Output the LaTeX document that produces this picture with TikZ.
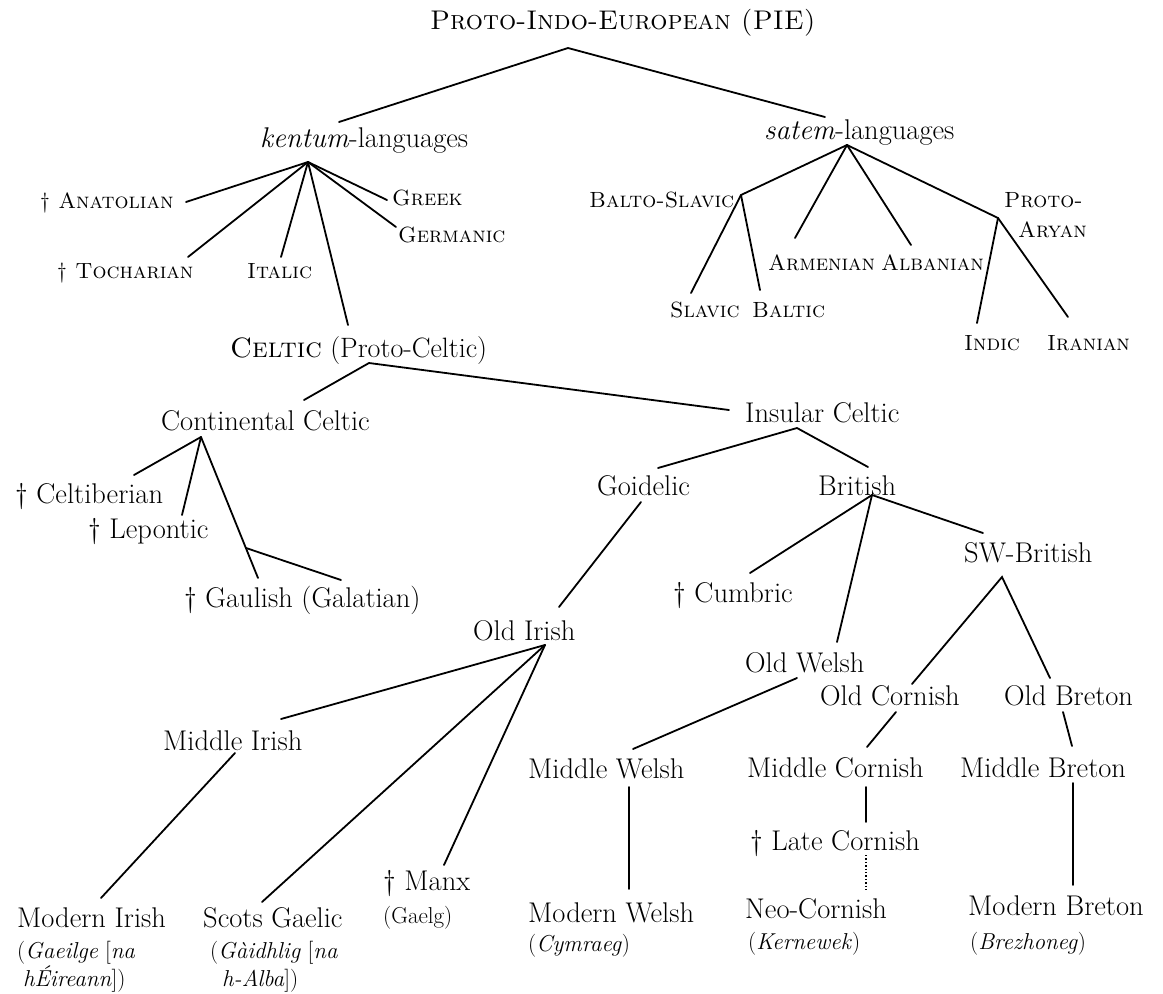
\documentclass[tikz,border=0pt]{standalone}
\usepackage{fontspec}
\begin{document}
\begin{tikzpicture}[x=1pt,y=-1pt,
  lbl/.style={inner sep=0pt, anchor=base west, font=\fontsize{28.5}{30}\selectfont},
  sclbl/.style={inner sep=0pt, anchor=base west, font=\fontsize{22}{24}\selectfont\scshape},
  gloss/.style={inner sep=0pt, anchor=base west, font=\fontsize{23}{26}\selectfont},
  branch/.style={line width=1.8pt, line cap=round},
  dotbranch/.style={line width=1.4pt, dotted}]
\useasboundingbox (0,0) rectangle (1163,994);
\fill[white] (0,0) rectangle (1163,994);

% ---------- labels ----------
\node[sclbl, font=\fontsize{27}{29}\selectfont\scshape] (pie) at (430,29) {Proto-Indo-European (PIE)};
\node[lbl] (kentum) at (260,147) {\textit{kentum}-languages};
\node[lbl] (satem) at (764,139) {\textit{satem}-languages};

\node[sclbl] (anat) at (40,208.5) {† Anatolian};
\node[sclbl] (greek) at (392,205.5) {Greek};
\node[sclbl] (germ) at (398,242.5) {Germanic};
\node[sclbl] (toch) at (57,278.5) {† Tocharian};
\node[sclbl] (ital) at (247,278.5) {Italic};

\node[sclbl] (balsl) at (589,207.5) {Balto-Slavic};
\node[sclbl] (proto) at (1004,207.5) {Proto-};
\node[sclbl] (aryan) at (1018,237.5) {Aryan};
\node[sclbl] (arm) at (768,270.5) {Armenian};
\node[sclbl] (alb) at (881,270.5) {Albanian};
\node[sclbl] (slav) at (670,317.5) {Slavic};
\node[sclbl] (balt) at (752,317.5) {Baltic};
\node[sclbl] (indic) at (964,350.5) {Indic};
\node[sclbl] (iran) at (1047,350.5) {Iranian};

\node[lbl, font=\fontsize{28}{30}\selectfont] (celtic) at (230,357) {\textsc{Celtic} (Proto-Celtic)};
\node[lbl] (cont) at (161,430) {Continental Celtic};
\node[lbl] (insular) at (745,422) {Insular Celtic};
\node[lbl] (goid) at (597,495) {Goidelic};
\node[lbl] (brit) at (818,495) {British};
\node[lbl] (swbrit) at (964,562) {SW-British};
\node[lbl] (celtib) at (15,503) {† Celtiberian};
\node[lbl] (lep) at (88,538) {† Lepontic};
\node[lbl] (gaul) at (184,607) {† Gaulish (Galatian)};
\node[lbl] (cumb) at (673,602) {† Cumbric};
\node[lbl] (oirish) at (473,640) {Old Irish};
\node[lbl] (owelsh) at (745,672) {Old Welsh};
\node[lbl] (ocorn) at (820,705) {Old Cornish};
\node[lbl] (obret) at (1004,705) {Old Breton};
\node[lbl] (mirish) at (163,750) {Middle Irish};
\node[lbl] (mwelsh) at (528,778) {Middle Welsh};
\node[lbl] (mcorn) at (747,777) {Middle Cornish};
\node[lbl] (mbret) at (960,777) {Middle Breton};
\node[lbl] (lcorn) at (750,850) {† Late Cornish};
\node[lbl] (manx) at (383,890) {† Manx};
\node[lbl] (modirish) at (17,927) {Modern Irish};
\node[lbl] (scots) at (203,927) {Scots Gaelic};
\node[lbl] (modwelsh) at (528,922) {Modern Welsh};
\node[lbl] (neocorn) at (745,918) {Neo-Cornish};
\node[lbl] (modbret) at (968,915) {Modern Breton};

\node[gloss] (gaelg) at (383,923) {(Gaelg)};
\node[gloss] (gaeilgeA) at (17,958) {(\textit{Gaeilge} [\textit{na}};
\node[gloss] (gaeilgeB) at (23,986) {\textit{hÉireann}])};
\node[gloss] (gaidhA) at (210,958) {(\textit{Gàidhlig} [\textit{na}};
\node[gloss] (gaidhB) at (222,986) {\textit{h-Alba}])};
\node[gloss] (cymr) at (528,951) {(\textit{Cymraeg})};
\node[gloss] (kern) at (748,949) {(\textit{Kernewek})};
\node[gloss] (brez) at (970,949) {(\textit{Brezhoneg})};

% ---------- junctions and line ends ----------
\coordinate (pieJ) at (568,48);
\coordinate (kentumT) at (339,122);
\coordinate (satemT) at (825,117);

\coordinate (kentJ) at (308,162);
\coordinate (anatE) at (186,202);
\coordinate (tochE) at (188,257);
\coordinate (italE) at (281,257);
\coordinate (celtE) at (348,325);
\coordinate (greekE) at (387,200);
\coordinate (germE) at (396,227);

\coordinate (satJ) at (847,145);
\coordinate (bsJ) at (741,195);
\coordinate (armE) at (795,238);
\coordinate (albE) at (911,245);
\coordinate (paJ) at (998,218);
\coordinate (slavE) at (691,293);
\coordinate (baltE) at (760,290);
\coordinate (indE) at (977,323);
\coordinate (iranE) at (1068,317);

\coordinate (celtJ) at (369,363);
\coordinate (contE) at (304,400);
\coordinate (insE) at (729,410);

\coordinate (contJ) at (201,437);
\coordinate (celtibE) at (134,475);
\coordinate (lepE) at (182,515);
\coordinate (gaulE) at (258,578);
\coordinate (galJ) at (246,548);
\coordinate (galatE) at (341,580);

\coordinate (insJ) at (797,428);
\coordinate (goidE) at (658,468);
\coordinate (britE) at (868,467);

\coordinate (goidB) at (641,502);
\coordinate (oirT) at (559,607);

\coordinate (britJ) at (872,495);
\coordinate (cumbE) at (750,573);
\coordinate (owelT) at (837,642);
\coordinate (swbE) at (983,533);

\coordinate (swbJ) at (1002,577);
\coordinate (ocorT) at (912,684);
\coordinate (obreT) at (1050,678);

\coordinate (oirJ) at (545,645);
\coordinate (mirT) at (281,719);
\coordinate (sgE) at (262,902);
\coordinate (manxE) at (444,865);

\coordinate (mirB) at (235,753);
\coordinate (modirE) at (101,898);

\coordinate (owelB) at (797,678);
\coordinate (mwelT) at (633,749);
\coordinate (mwelB) at (629,787);
\coordinate (modwelT) at (629,889);

\coordinate (ocorB) at (896,712);
\coordinate (mcorT) at (867,747);
\coordinate (obreB) at (1063,712);
\coordinate (mbreT) at (1072,746);

\coordinate (mcorB) at (866,787);
\coordinate (lcorT) at (866,822);
\coordinate (lcorB) at (866,855);
\coordinate (ncorT) at (866,890);

\coordinate (mbreB) at (1073,783);
\coordinate (modbreT) at (1073,885);

% ---------- connectors ----------
\draw[branch] (kentumT) -- (pieJ) -- (satemT);

\draw[branch] (kentJ) -- (anatE);
\draw[branch] (kentJ) -- (tochE);
\draw[branch] (kentJ) -- (italE);
\draw[branch] (kentJ) -- (celtE);
\draw[branch] (kentJ) -- (greekE);
\draw[branch] (kentJ) -- (germE);

\draw[branch] (satJ) -- (bsJ);
\draw[branch] (satJ) -- (armE);
\draw[branch] (satJ) -- (albE);
\draw[branch] (satJ) -- (paJ);
\draw[branch] (bsJ) -- (slavE);
\draw[branch] (bsJ) -- (baltE);
\draw[branch] (paJ) -- (indE);
\draw[branch] (paJ) -- (iranE);

\draw[branch] (contE) -- (celtJ) -- (insE);
\draw[branch] (contJ) -- (celtibE);
\draw[branch] (contJ) -- (lepE);
\draw[branch] (contJ) -- (gaulE);
\draw[branch] (galJ) -- (galatE);

\draw[branch] (goidE) -- (insJ) -- (britE);
\draw[branch] (goidB) -- (oirT);
\draw[branch] (britJ) -- (cumbE);
\draw[branch] (britJ) -- (owelT);
\draw[branch] (britJ) -- (swbE);
\draw[branch] (ocorT) -- (swbJ) -- (obreT);

\draw[branch] (oirJ) -- (mirT);
\draw[branch] (oirJ) -- (sgE);
\draw[branch] (oirJ) -- (manxE);
\draw[branch] (mirB) -- (modirE);

\draw[branch] (owelB) -- (mwelT);
\draw[branch] (mwelB) -- (modwelT);
\draw[branch] (ocorB) -- (mcorT);
\draw[branch] (obreB) -- (mbreT);
\draw[branch] (mcorB) -- (lcorT);
\draw[dotbranch] (lcorB) -- (ncorT);
\draw[branch] (mbreB) -- (modbreT);
\end{tikzpicture}
\end{document}
